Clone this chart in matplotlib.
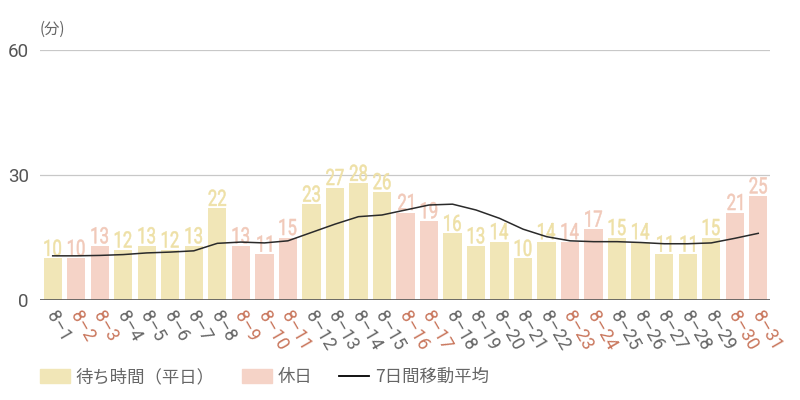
import matplotlib
matplotlib.use('Agg')
import numpy as np
import matplotlib.pyplot as plt
from matplotlib.patches import Patch, PathPatch
from matplotlib.lines import Line2D
from matplotlib.textpath import TextPath
from matplotlib.font_manager import FontProperties
from matplotlib.transforms import Affine2D, ScaledTranslation

plt.rcParams['font.family'] = ['Roboto', 'Noto Sans CJK JP', 'DejaVu Sans']

days = ['8-%d' % d for d in range(1, 32)]
wait = [10, 10, 13, 12, 13, 12, 13, 22, 13, 11, 15, 23, 27, 28, 26, 21,
        19, 16, 13, 14, 10, 14, 14, 17, 15, 14, 11, 11, 15, 21, 25]
holidays = ['8-2', '8-3', '8-9', '8-10', '8-11', '8-16', '8-17',
            '8-23', '8-24', '8-30', '8-31']
avg7 = [10.6, 10.6, 10.7, 10.9, 11.3, 11.5, 11.8, 13.6, 13.9, 13.7, 14.2,
        16.2, 18.2, 20.0, 20.4, 21.6, 22.8, 23.0, 21.6, 19.6, 17.0, 15.2,
        14.2, 14.0, 14.0, 13.8, 13.5, 13.5, 13.7, 14.8, 16.0]

c_week = '#f1e6b7'
c_hol = '#f5d3c7'
c_week_txt = '#eee0a6'
c_hol_txt = '#f1c9b9'
c_hol_lbl = '#c9765c'
c_lbl = '#666666'

fig = plt.figure(figsize=(8, 4), dpi=100)
ax = fig.add_axes([0.05, 0.25, 0.9125, 0.625])

x = np.arange(len(days))
is_hol = [d in holidays for d in days]
colors = [c_hol if h else c_week for h in is_hol]
ax.bar(x, wait, width=0.78, color=colors, zorder=2)

ax.set_xlim(-0.54, 30.5)
ax.set_ylim(0, 60)

# condensed value labels: squeeze Roboto glyphs horizontally
num_font = FontProperties(family='Roboto')
for xi, v, h in zip(x, wait, is_hol):
    tp = TextPath((0, 0), str(v), size=22.5, prop=num_font)
    ext = tp.get_extents()
    tr = (Affine2D().translate(-(ext.x0 + ext.x1) / 2, 0).scale(0.74, 1.0)
          .translate(0, 2.5)
          + ScaledTranslation(xi, v, ax.transData))
    c = c_hol_txt if h else c_week_txt
    ax.add_artist(PathPatch(tp, transform=tr, lw=0.4, facecolor=c,
                            edgecolor=c, zorder=3))

ax.plot(x, avg7, color='#2a2a2a', lw=1.1, zorder=4)

ax.set_yticks([0, 30, 60])
ax.set_yticklabels(['0', '30', '60'], fontsize=13.5, color='#555555')
ax.grid(axis='y', color='#c8c8c8', lw=0.9, zorder=0)
ax.axhline(0, color='#555555', lw=1.2, zorder=5)
for s in ax.spines.values():
    s.set_visible(False)
ax.tick_params(axis='both', length=0)
ax.tick_params(axis='y', pad=8)

ax.set_xticks(x)
ax.set_xticklabels([])
for xi, d, h in zip(x, days, is_hol):
    ax.text(xi - 0.1, -3.0, d.replace('-', '\u2013'), rotation=-60,
            rotation_mode='anchor', ha='left', va='center',
            fontsize=13, color=c_hol_lbl if h else c_lbl)

fig.text(0.049, 0.905, '(分)', fontsize=11, color='#666666',
         family=['Noto Sans CJK JP', 'DejaVu Sans'], ha='left', va='bottom')

handles = [Patch(color=c_week, label='待ち時間（平日）'),
           Patch(color=c_hol, label='休日'),
           Line2D([], [], color='black', lw=1.3, label='7日間移動平均')]
fig.legend(handles=handles, loc='center left', bbox_to_anchor=(0.05, 0.057),
           ncol=3, frameon=False, handlelength=1.72, handleheight=0.86,
           columnspacing=1.55, handletextpad=0.35, borderpad=0,
           borderaxespad=0,
           prop={'family': ['Noto Sans CJK JP', 'DejaVu Sans'], 'size': 12.5},
           labelcolor='#666666')

fig.savefig('out.png', dpi=100)
